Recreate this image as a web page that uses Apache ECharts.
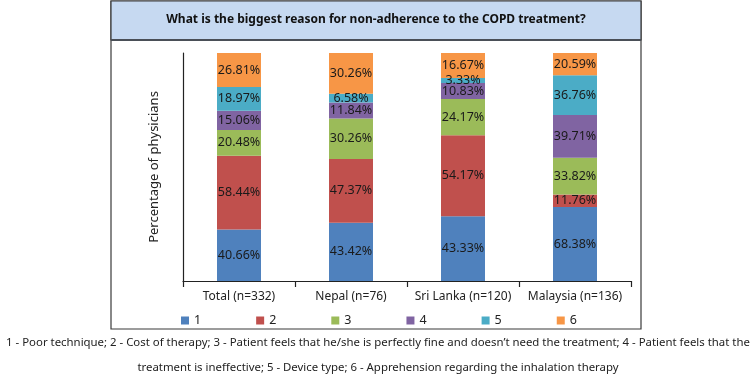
<!DOCTYPE html>
<html>
<head>
<meta charset="utf-8">
<script src="https://cdn.jsdelivr.net/npm/echarts@6/dist/echarts.min.js"></script>
<style>
  html, body { margin: 0; padding: 0; background: #fff; }
  #chart { width: 756px; height: 380px; }
</style>
</head>
<body>
<div id="chart"></div>
<script>
// categories and raw answer shares (%) per reason
var categories = ['Total (n=332)', 'Nepal (n=76)', 'Sri Lanka (n=120)', 'Malaysia (n=136)']
var reasonNames = ['1', '2', '3', '4', '5', '6']
var reason1 = [40.66, 43.42, 43.33, 68.38]
var reason2 = [58.44, 47.37, 54.17, 11.76]
var reason3 = [20.48, 30.26, 24.17, 33.82]
var reason4 = [15.06, 11.84, 10.83, 39.71]
var reason5 = [18.97, 6.58, 3.33, 36.76]
var reason6 = [26.81, 30.26, 16.67, 20.59]
var colors = ['#4f81bd', '#c0504d', '#9bbb59', '#8064a2', '#4bacc6', '#f79646']
var footnote1 = '1 - Poor technique; 2 - Cost of therapy; 3 - Patient feels that he/she is perfectly fine and doesn\u2019t need the treatment; 4 - Patient feels that the'
var footnote2 = 'treatment is ineffective; 5 - Device type; 6 - Apprehension regarding the inhalation therapy'

var raw = [reason1, reason2, reason3, reason4, reason5, reason6]
// bars are drawn as 100% stacks, labels keep the raw percentages
var totals = categories.map(function (c, i) {
  var s = 0
  raw.forEach(function (r) { s += r[i] })
  return s
})

var font = 'Noto Sans'
var series = raw.map(function (r, k) {
  return {
    name: reasonNames[k],
    type: 'bar',
    stack: 'all',
    barWidth: 44,
    itemStyle: { color: colors[k] },
    label: {
      show: true,
      position: 'inside',
      color: '#1a1a1a',
      fontFamily: font,
      fontSize: 12.5,
      formatter: function (p) { return r[p.dataIndex].toFixed(2) + '%' }
    },
    data: r.map(function (v, i) { return v / totals[i] * 100 })
  }
})

var myChart = echarts.init(document.getElementById('chart'))
var option = {
  animation: false,
  textStyle: { fontFamily: font },
  grid: { left: 183, right: 125, top: 53, bottom: 99 },
  legend: {
    data: reasonNames,
    left: 176,
    top: 309,
    itemWidth: 8,
    itemHeight: 8,
    itemGap: 55,
    icon: 'rect',
    textStyle: { fontFamily: font, fontSize: 12.5, color: '#222' }
  },
  xAxis: {
    type: 'category',
    data: categories,
    boundaryGap: true,
    axisLine: { lineStyle: { color: '#222', width: 1.2 } },
    axisTick: {
      show: true,
      inside: false,
      alignWithLabel: false,
      interval: 0,
      length: 6,
      lineStyle: { color: '#222', width: 1.2 }
    },
    axisLabel: { interval: 0, color: '#222', fontSize: 12, margin: 10, fontFamily: font }
  },
  yAxis: {
    type: 'value',
    min: 0,
    max: 100,
    name: 'Percentage of physicians',
    nameLocation: 'middle',
    nameGap: 22,
    nameRotate: 90,
    nameTextStyle: { color: '#222', fontSize: 13, fontFamily: font },
    axisLine: { show: true, lineStyle: { color: '#222', width: 1.2 } },
    axisTick: { show: false },
    axisLabel: { show: false },
    splitLine: { show: false }
  },
  graphic: [
    {
      type: 'rect',
      z: -10,
      shape: { x: 111, y: 1, width: 530, height: 328 },
      style: { fill: '#fff', stroke: '#3a3a3a', lineWidth: 1.2 }
    },
    {
      type: 'rect',
      z: -9,
      shape: { x: 111, y: 1, width: 530, height: 39 },
      style: { fill: '#c6d9f1', stroke: '#3a3a3a', lineWidth: 1.2 }
    },
    {
      type: 'rect',
      z: -8,
      shape: { x: 111, y: 39, width: 530, height: 2 },
      style: { fill: '#4a4f57' }
    },
    {
      type: 'text',
      x: 376,
      y: 20,
      style: {
        text: 'What is the biggest reason for non-adherence to the COPD treatment?',
        fill: '#111',
        font: 'bold 12px "Noto Sans"',
        textAlign: 'center',
        textVerticalAlign: 'middle'
      }
    },
    {
      type: 'text',
      x: 378,
      y: 343,
      style: {
        text: footnote1,
        fill: '#222',
        font: '11.4px "Noto Sans"',
        textAlign: 'center',
        textVerticalAlign: 'middle'
      }
    },
    {
      type: 'text',
      x: 378,
      y: 368,
      style: {
        text: footnote2,
        fill: '#222',
        font: '11.4px "Noto Sans"',
        textAlign: 'center',
        textVerticalAlign: 'middle'
      }
    }
  ],
  series: series
}
myChart.setOption(option)
</script>
</body>
</html>
